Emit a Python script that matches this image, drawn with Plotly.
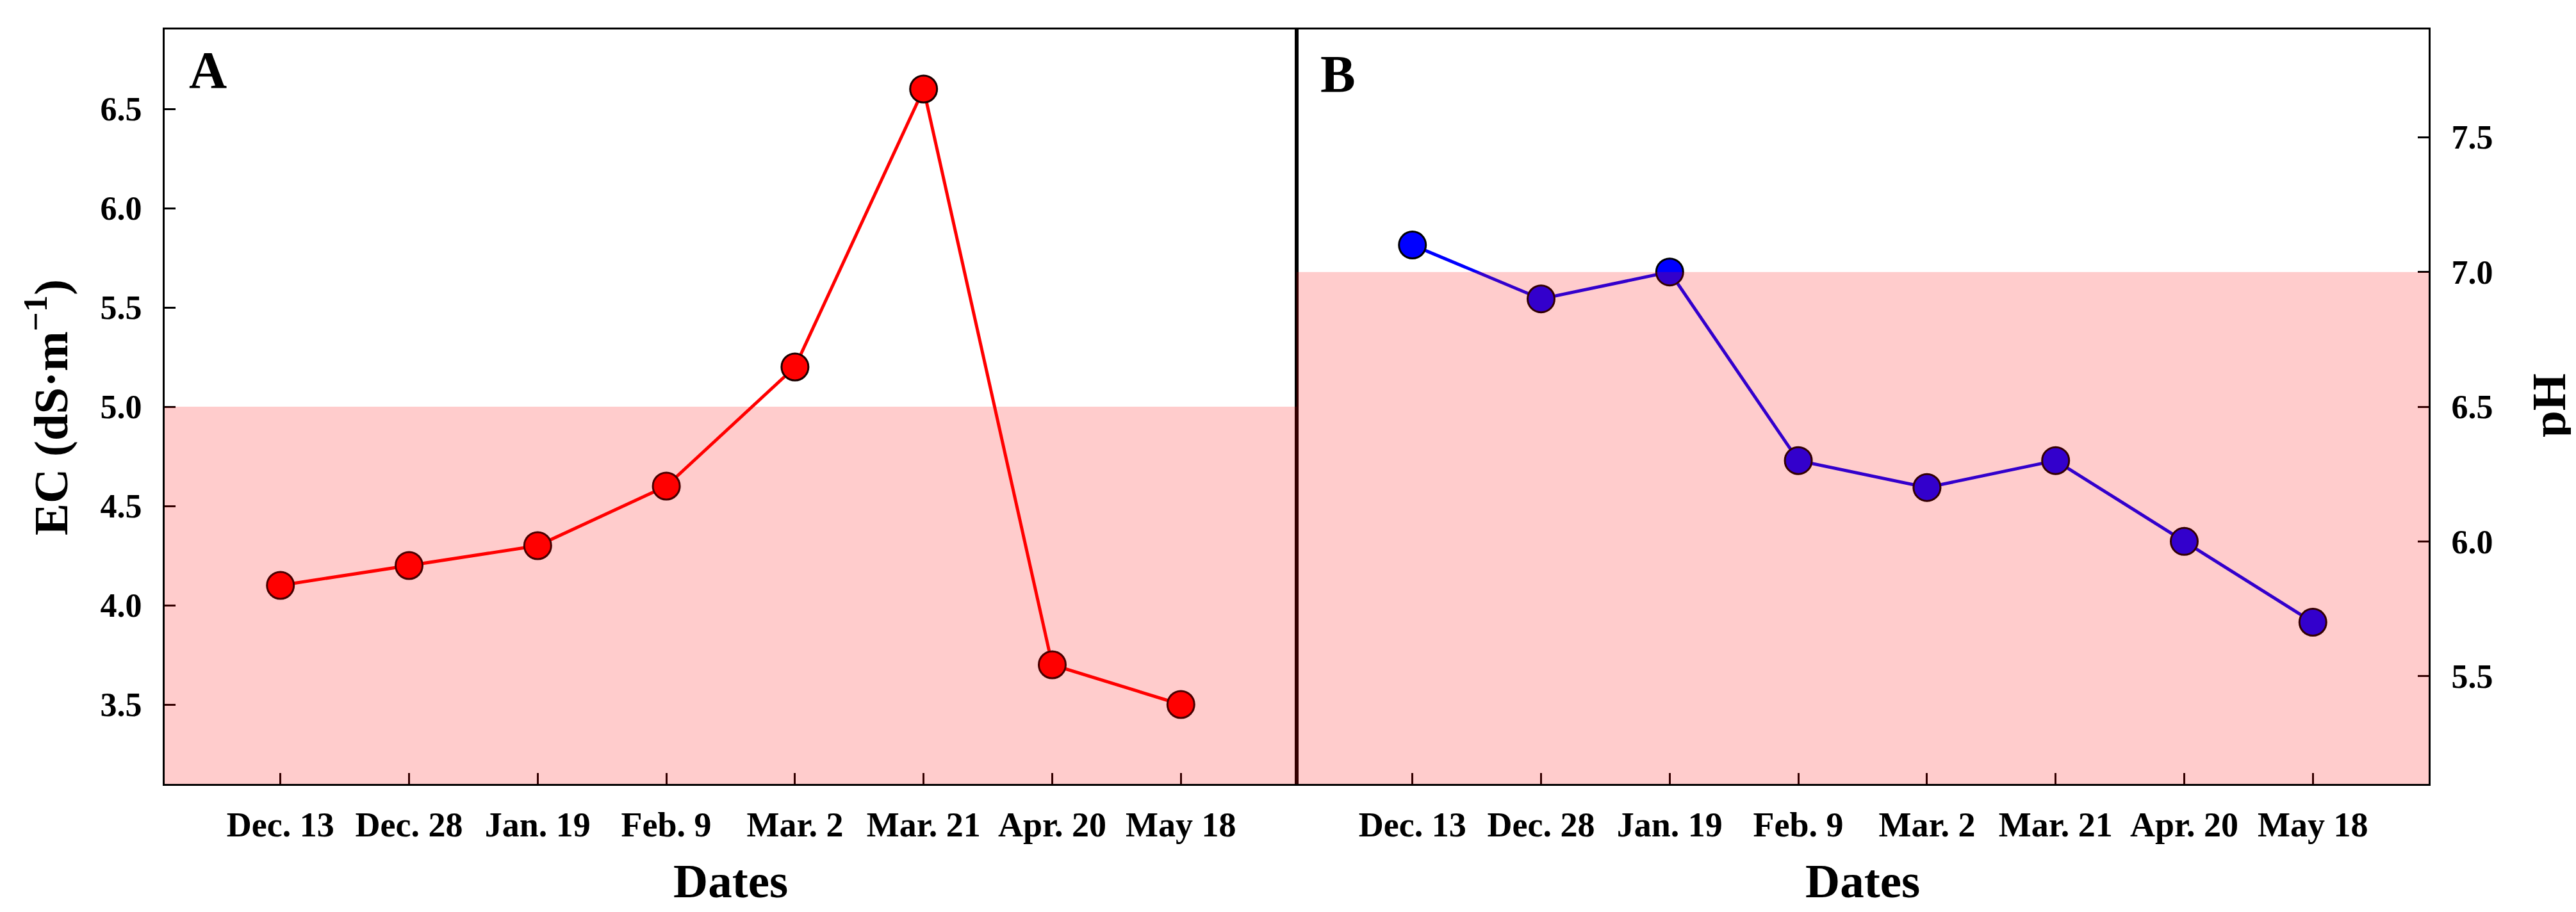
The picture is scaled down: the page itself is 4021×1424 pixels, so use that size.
import plotly.graph_objects as go

dates = ["Dec. 13", "Dec. 28", "Jan. 19", "Feb. 9", "Mar. 2", "Mar. 21", "Apr. 20", "May 18"]
ec_values = [4.1, 4.2, 4.3, 4.6, 5.2, 6.6, 3.7, 3.5]
ph_values = [7.1, 6.9, 7.0, 6.3, 6.2, 6.3, 6.0, 5.7]
ec_ticks = [3.5, 4.0, 4.5, 5.0, 5.5, 6.0, 6.5]
ph_ticks = [5.5, 6.0, 6.5, 7.0, 7.5]
ec_threshold = 5.0
ph_threshold = 7.0

FONT = "Liberation Serif"
W, H = 4021, 1424
ML, MR, MT, MB = 249, 238, 38, 208

fig = go.Figure()
fig.add_trace(go.Scatter(
    x=dates, y=ec_values, mode="lines+markers", xaxis="x", yaxis="y",
    line=dict(color="#FF0000", width=5),
    marker=dict(size=42, color="#FF0000", line=dict(color="#1a0000", width=3)),
    showlegend=False))
fig.add_trace(go.Scatter(
    x=dates, y=ph_values, mode="lines+markers", xaxis="x2", yaxis="y2",
    line=dict(color="#0000FF", width=5),
    marker=dict(size=42, color="#0000FF", line=dict(color="#000000", width=3)),
    showlegend=False))

axis_common = dict(showline=True, linecolor="black", linewidth=3, mirror=True,
                   ticks="inside", ticklen=17, tickwidth=3, tickcolor="black",
                   showgrid=False, zeroline=False)
xtick_font = dict(family=FONT, size=54, color="black", weight="bold")
ytick_font = dict(family=FONT, size=52, color="black", weight="bold")

fig.update_layout(
    width=W, height=H,
    margin=dict(l=ML, r=MR, t=MT, b=MB),
    paper_bgcolor="white", plot_bgcolor="white",
    xaxis=dict(domain=[0, 0.5], range=[-0.9, 7.9], type="category",
               tickfont=xtick_font, ticklabelstandoff=14, **axis_common),
    yaxis=dict(domain=[0, 1], range=[3.1, 6.9], tickvals=ec_ticks, tickformat=".1f",
               tickfont=ytick_font, ticklabelstandoff=22, **axis_common),
    xaxis2=dict(domain=[0.5, 1], range=[-0.9, 7.9], type="category", anchor="y2",
                tickfont=xtick_font, ticklabelstandoff=14, **axis_common),
    yaxis2=dict(domain=[0, 1], range=[5.1, 7.9], tickvals=ph_ticks, tickformat=".1f",
                anchor="x2", side="right",
                tickfont=ytick_font, ticklabelstandoff=22, **axis_common),
)

overlay = "rgba(255,0,0,0.2)"
fig.add_shape(type="rect", xref="x domain", yref="y", x0=0, x1=1, y0=3.1, y1=ec_threshold,
              fillcolor=overlay, line=dict(width=0), layer="above")
fig.add_shape(type="rect", xref="x2 domain", yref="y2", x0=0, x1=1, y0=5.1, y1=ph_threshold,
              fillcolor=overlay, line=dict(width=0), layer="above")

pw = W - ML - MR
ph_ = H - MT - MB
def px(x):
    return (x - ML) / pw
def py(y):
    return (H - MB - y) / ph_

title_font = dict(family=FONT, size=75, color="black", weight="bold")
panel_font = dict(family=FONT, size=82, color="black", weight="bold")
ann = [
    dict(text="EC (dS·m<sup>−1</sup>)", x=px(65), y=py(628), textangle=-90, font=title_font),
    dict(text="pH", x=px(3970), y=py(625), textangle=-90, font=title_font),
    dict(text="Dates", x=0.25, y=py(1368), font=title_font),
    dict(text="Dates", x=0.75, y=py(1368), font=title_font),
    dict(text="A", x=px(316), y=py(102), font=panel_font),
    dict(text="B", x=px(2080), y=py(107), font=panel_font),
]
for a in ann:
    fig.add_annotation(xref="paper", yref="paper", showarrow=False,
                       xanchor="center", yanchor="middle", **a)

fig.write_html("out.html")
